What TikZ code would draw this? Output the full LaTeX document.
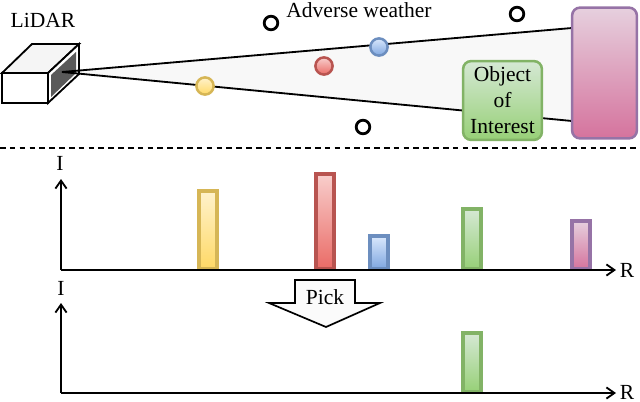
\documentclass[tikz,border=0pt]{standalone}
\usepackage{fontspec}
\setmainfont{Liberation Serif}
\usetikzlibrary{arrows.meta,positioning}
\definecolor{dyel}{HTML}{D6B656}\definecolor{tyel}{HTML}{FFF2CC}\definecolor{byel}{HTML}{FFD966}
\definecolor{dred}{HTML}{B85450}\definecolor{tred}{HTML}{F8CECC}\definecolor{bred}{HTML}{EA6B66}
\definecolor{dblu}{HTML}{6C8EBF}\definecolor{tblu}{HTML}{DAE8FC}\definecolor{bblu}{HTML}{7EA6E0}
\definecolor{dgrn}{HTML}{82B366}\definecolor{tgrn}{HTML}{D5E8D4}\definecolor{bgrn}{HTML}{97D077}
\definecolor{dpur}{HTML}{9673A6}\definecolor{tpur}{HTML}{E6D0DE}\definecolor{bpur}{HTML}{D5739D}
\definecolor{beamgray}{HTML}{F8F8F8}

\begin{document}
\begin{tikzpicture}[x=0.025cm, y=-0.025cm, font=\fontsize{15.3}{18.5}\selectfont,
  ring/.style={circle,draw=black,line width=2pt,minimum size=0.34cm,inner sep=0pt},
  drop/.style={circle,line width=1.8pt,minimum size=0.43cm,inner sep=0pt},
  bar/.style={line width=2.2pt},
  axis/.style={line width=1.3pt,-{Straight Barb[length=2mm,width=2.8mm]}},
  lbl/.style={inner sep=0pt}]
\useasboundingbox (0,0) rectangle (640,402);
% ================= scene =================
\coordinate (src) at (62,72);
\coordinate (topend) at (572,28);
\coordinate (botend) at (572,121);
\fill[beamgray] (src) -- (topend) -- (botend) -- cycle;
% LiDAR box
\draw[line width=1.3pt,fill=white] (2,73) rectangle (48,103);
\draw[line width=1.3pt,fill=gray!8] (2,73) -- (32,44) -- (79,44) -- (48,73) -- cycle;
\draw[line width=1.3pt,fill=white] (48,73) -- (79,44) -- (79,74) -- (48,103) -- cycle;
\fill[gray!70!black] (51,75) -- (76,52) -- (76,73) -- (51,97) -- cycle;
\node[lbl] (lidarlbl) at (43,20) {LiDAR};
% beam
\draw[line width=1.3pt] (src) -- (topend);
\draw[line width=1.3pt] (src) -- (botend);
% weather particles and returns
\node[lbl] (weatherlbl) at (359,10) {Adverse weather};
\node[ring] (wa) at (271,23) {};
\node[ring] (wb) at (517,14) {};
\node[ring] (wc) at (363,127) {};
\node[drop,draw=dyel,top color=tyel,bottom color=byel] (dy) at (205,86) {};
\node[drop,draw=dred,top color=tred,bottom color=bred] (dr) at (324,66) {};
\node[drop,draw=dblu,top color=tblu,bottom color=bblu] (db) at (379,47) {};
\node[draw=dgrn,line width=1.8pt,top color=tgrn,bottom color=bgrn,rounded corners=0.2cm,
  minimum width=1.97cm,minimum height=1.97cm,align=center,inner sep=1pt] (obj) at (502.5,100.5)
  {Object\\of\\Interest};
\node[draw=dpur,line width=1.8pt,top color=tpur,bottom color=bpur,rounded corners=0.2cm,
  minimum width=1.62cm,minimum height=3.27cm] (target) at (604.5,73) {};
\draw[line width=1pt,dash pattern=on 4pt off 3pt] (0,148) -- (640,148);
% ================= raw returns =================
\coordinate (oa) at (61,270);
\coordinate (ya) at (61,179);
\coordinate (xa) at (616,270);
\foreach \x/\t/\c in {199/191/yel,316/174/red,370/236/blu,463/209/grn,572/221/pur}
  {\draw[bar,draw=d\c,top color=t\c,bottom color=b\c] (\x,\t) rectangle (\x+18,269);}
\draw[axis] (oa) -- (ya);
\draw[axis] (oa) -- (xa);
\node[lbl] (ia) at (60,163) {I};
\node[lbl] (ra) at (627,270) {R};
% ================= picked return =================
\coordinate (ob) at (61,393);
\coordinate (yb) at (61,303);
\coordinate (xb) at (616,393);
\draw[bar,draw=dgrn,top color=tgrn,bottom color=bgrn] (463,333) rectangle (481,392);
\draw[axis] (ob) -- (yb);
\draw[axis] (ob) -- (xb);
\node[lbl] (ib) at (61,288) {I};
\node[lbl] (rb) at (627,392) {R};
% pick arrow
\draw[line width=1.2pt,fill=gray!3] (295,280) -- (355,280) -- (355,303) -- (380,303)
  -- (326,327) -- (269,303) -- (295,303) -- cycle;
\node[lbl] (pick) at (325,297) {Pick};
\end{tikzpicture}
\end{document}
